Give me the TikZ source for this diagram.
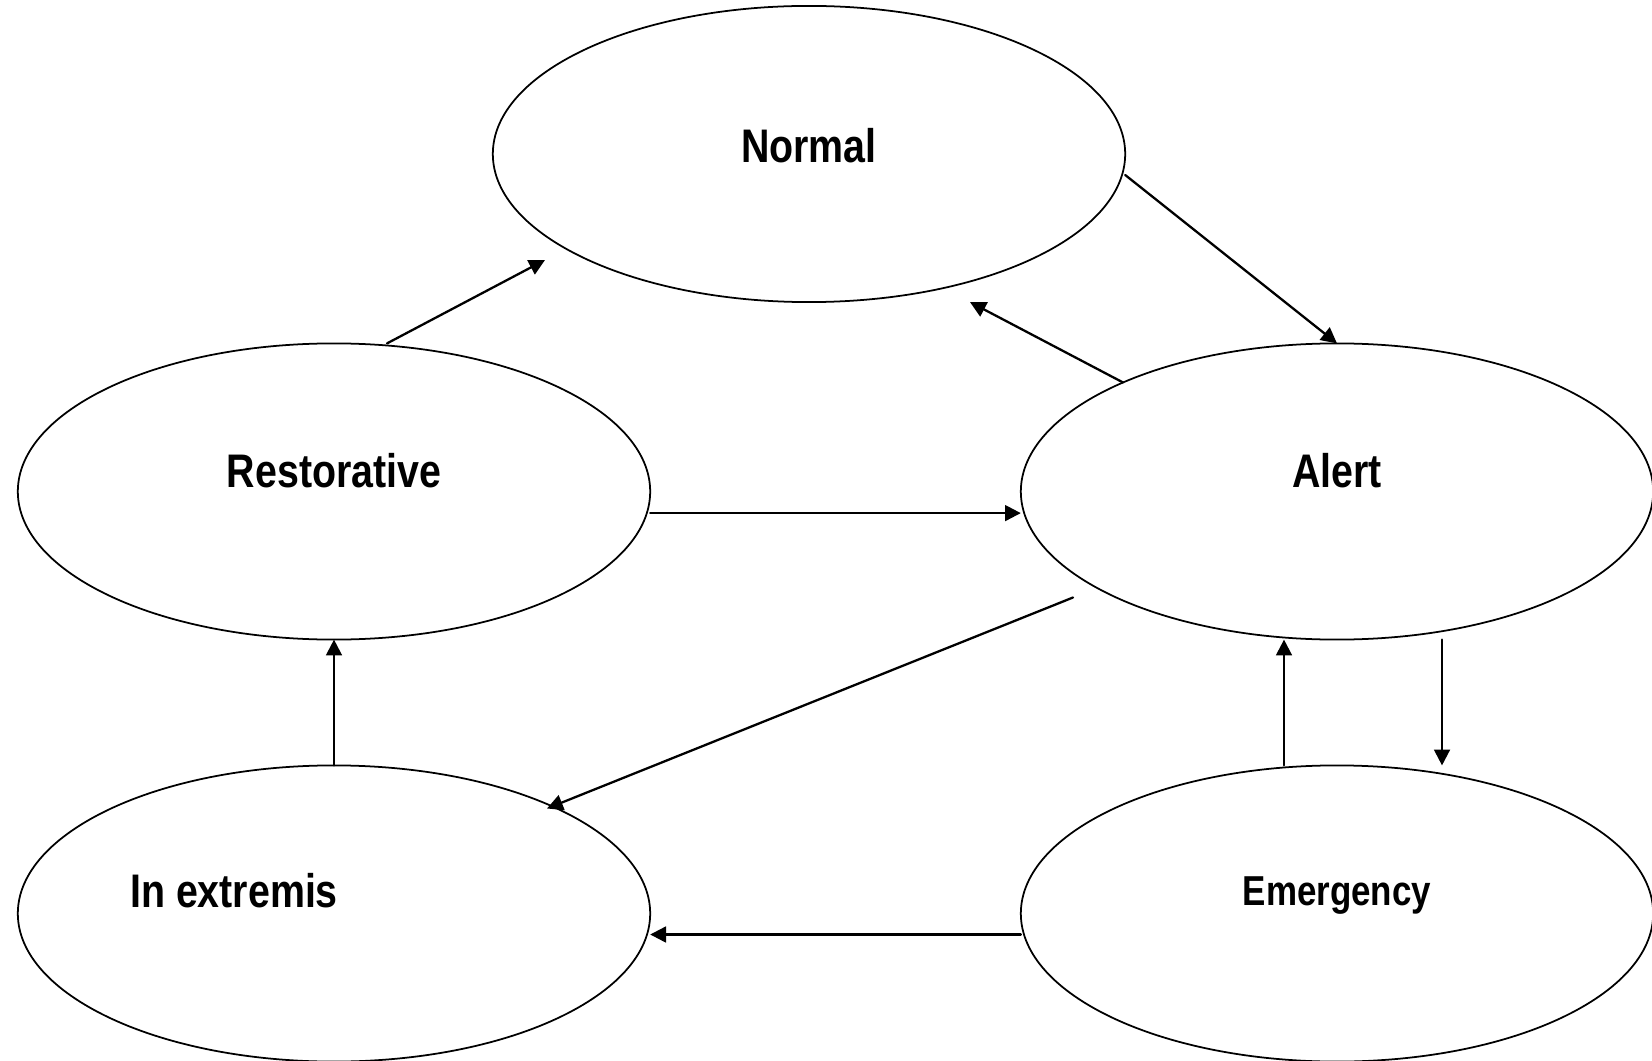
\documentclass[tikz,border=0pt]{standalone}
\usepackage{fontspec}
\setmainfont[FakeStretch=0.835]{Liberation Sans}
\usepackage{tikz}
\usetikzlibrary{arrows.meta,shapes.geometric,calc}

\begin{document}
\begin{tikzpicture}[line cap=round,line join=round,>={Triangle[length=4.5pt,width=4.5pt]},x=0.01cm,y=0.01cm,
    state/.style={draw,ellipse,line width=0.5pt,minimum width=6.32cm,minimum height=2.96cm,inner sep=0pt,outer sep=0pt},
    lbl/.style={anchor=base,font=\fontsize{13.4}{16}\selectfont\bfseries,inner sep=0pt},
    trans/.style={->,line width=0.65pt}]
                \useasboundingbox (0,0) rectangle (1652,-1061);
                % states
                \node[state] (normal) at (809,-154) {};
                \node[state] (rest) at (334,-491.5) {};
                \node[state] (alert) at (1337,-491.5) {};
                \node[state] (extremis) at (334,-913.5) {};
                \node[state] (emerg) at (1337,-913.5) {};
                % labels
                \node[lbl] (normaltxt) at (809,-163) {Normal};
                \node[lbl] (resttxt) at (334,-487) {Restorative};
                \node[lbl] (alerttxt) at (1337,-487) {Alert};
                \node[lbl] (extremistxt) at (234,-907) {In extremis};
                \node[lbl,font=\fontsize{11.9}{14}\selectfont\bfseries] (emergtxt) at (1337,-905) {Emergency};
                % transitions
                \draw [trans] ($(rest.north)+(53,0)$) -- ($(normal.center)+(-264,-106)$);
                \draw [trans] ($(normal.east)+(0,-21)$) -- (alert.north);
                \draw [trans] (alert.153) -- ($(normal.south)+(161,0)$);
                \draw [trans] ($(rest.east)+(0,-21.6)$) -- ($(alert.west)+(0,-21.6)$);
                \draw [trans] ($(alert.center)+(-264,-106)$) -- ($(extremis.center)+(213,105)$);
                \draw [trans] (extremis.north) -- (rest.south);
                \draw [trans] ($(emerg.north)+(-53,0)$) -- ($(alert.south)+(-53,0)$);
                \draw [trans] ($(alert.south)+(105,0)$) -- ($(emerg.north)+(105,0)$);
                \draw [trans] ($(emerg.west)+(0,-21)$) -- ($(extremis.east)+(0,-21)$);
\end{tikzpicture}
\end{document}
